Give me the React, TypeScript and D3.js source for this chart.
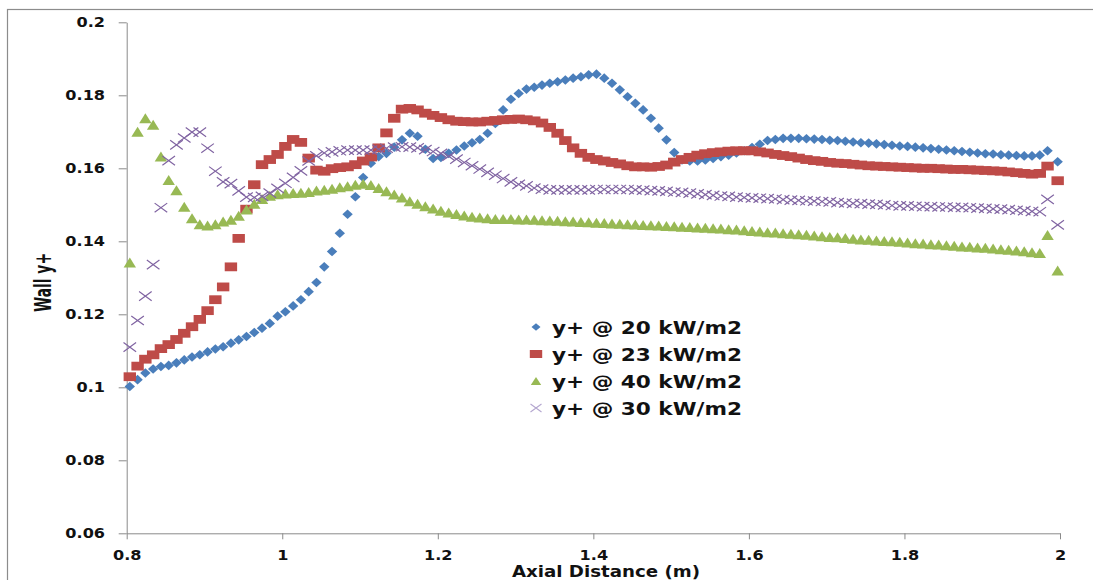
import React, { useEffect, useRef } from 'react';
import * as d3 from 'd3';

// axial positions (m), shared by all four runs
const xValues = [
  0.804, 0.814, 0.824, 0.834, 0.844, 0.854, 0.864, 0.874, 0.884, 0.894,
  0.904, 0.914, 0.924, 0.934, 0.944, 0.954, 0.964, 0.974, 0.984, 0.994,
  1.004, 1.014, 1.024, 1.034, 1.044, 1.054, 1.064, 1.074, 1.084, 1.094,
  1.104, 1.114, 1.124, 1.134, 1.144, 1.154, 1.164, 1.174, 1.184, 1.194,
  1.204, 1.214, 1.224, 1.234, 1.244, 1.254, 1.264, 1.274, 1.284, 1.294,
  1.304, 1.314, 1.324, 1.334, 1.344, 1.354, 1.364, 1.374, 1.384, 1.394,
  1.404, 1.414, 1.424, 1.434, 1.444, 1.454, 1.464, 1.474, 1.484, 1.494,
  1.504, 1.514, 1.524, 1.534, 1.544, 1.554, 1.564, 1.574, 1.584, 1.594,
  1.604, 1.614, 1.624, 1.634, 1.644, 1.654, 1.664, 1.674, 1.684, 1.694,
  1.704, 1.714, 1.724, 1.734, 1.744, 1.754, 1.764, 1.774, 1.784, 1.794,
  1.804, 1.814, 1.824, 1.834, 1.844, 1.854, 1.864, 1.874, 1.884, 1.894,
  1.904, 1.914, 1.924, 1.934, 1.944, 1.954, 1.964, 1.974, 1.984, 1.997,
];

const yPlus20 = [
  0.1002, 0.1021, 0.1039, 0.1050, 0.1057, 0.1060, 0.1067, 0.1075, 0.1083, 0.1089,
  0.1097, 0.1105, 0.1111, 0.1121, 0.1130, 0.1139, 0.1150, 0.1162, 0.1175, 0.1195,
  0.1207, 0.1223, 0.1240, 0.1262, 0.1287, 0.1330, 0.1372, 0.1422, 0.1474, 0.1522,
  0.1575, 0.1614, 0.1632, 0.1641, 0.1658, 0.1678, 0.1696, 0.1688, 0.1652, 0.1627,
  0.1630, 0.1641, 0.1650, 0.1661, 0.1670, 0.1679, 0.1696, 0.1723, 0.1760, 0.1789,
  0.1805, 0.1817, 0.1822, 0.1828, 0.1833, 0.1837, 0.1842, 0.1847, 0.1851, 0.1856,
  0.1858, 0.1847, 0.1833, 0.1815, 0.1796, 0.1778, 0.1760, 0.1737, 0.1710, 0.1678,
  0.1643, 0.1623, 0.1620, 0.1620, 0.1623, 0.1627, 0.1632, 0.1636, 0.1642, 0.1648,
  0.1657, 0.1666, 0.1676, 0.1679, 0.1682, 0.1682, 0.1682, 0.1681, 0.1680, 0.1679,
  0.1677, 0.1676, 0.1674, 0.1672, 0.1670, 0.1669, 0.1667, 0.1665, 0.1663, 0.1661,
  0.1660, 0.1658, 0.1656, 0.1654, 0.1652, 0.1650, 0.1648, 0.1646, 0.1644, 0.1642,
  0.1640, 0.1639, 0.1637, 0.1636, 0.1635, 0.1634, 0.1634, 0.1636, 0.1648, 0.1618,
];

const yPlus23 = [
  0.1029, 0.1058, 0.1077, 0.1089, 0.1106, 0.1117, 0.1131, 0.1148, 0.1166, 0.1186,
  0.1210, 0.1240, 0.1275, 0.1330, 0.1408, 0.1488, 0.1555, 0.1610, 0.1624, 0.1638,
  0.1660, 0.1679, 0.1671, 0.1628, 0.1595, 0.1592, 0.1599, 0.1602, 0.1604, 0.1610,
  0.1620, 0.1631, 0.1656, 0.1697, 0.1737, 0.1762, 0.1764, 0.1760, 0.1751, 0.1745,
  0.1739, 0.1733, 0.1729, 0.1728, 0.1727, 0.1727, 0.1729, 0.1731, 0.1733, 0.1734,
  0.1735, 0.1733, 0.1730, 0.1724, 0.1712, 0.1696, 0.1676, 0.1656, 0.1641, 0.1630,
  0.1624, 0.1620, 0.1616, 0.1612, 0.1607, 0.1604, 0.1604, 0.1603, 0.1605, 0.1609,
  0.1617, 0.1624, 0.1630, 0.1636, 0.1640, 0.1643, 0.1645, 0.1647, 0.1648, 0.1648,
  0.1648, 0.1645, 0.1642, 0.1638, 0.1635, 0.1632, 0.1628, 0.1624, 0.1621, 0.1619,
  0.1616, 0.1614, 0.1613, 0.1611, 0.1609, 0.1607, 0.1606, 0.1605, 0.1604, 0.1603,
  0.1602, 0.1601, 0.1600, 0.1600, 0.1599, 0.1598, 0.1597, 0.1597, 0.1596, 0.1595,
  0.1594, 0.1593, 0.1592, 0.1590, 0.1588, 0.1586, 0.1584, 0.1586, 0.1606, 0.1566,
];

const yPlus40 = [
  0.1342, 0.1700, 0.1737, 0.1719, 0.1632, 0.1568, 0.1540, 0.1495, 0.1463, 0.1447,
  0.1443, 0.1447, 0.1454, 0.1459, 0.1470, 0.1487, 0.1503, 0.1516, 0.1525, 0.1529,
  0.1531, 0.1532, 0.1533, 0.1535, 0.1539, 0.1541, 0.1544, 0.1548, 0.1551, 0.1555,
  0.1558, 0.1554, 0.1546, 0.1537, 0.1528, 0.1520, 0.1510, 0.1503, 0.1496, 0.1490,
  0.1484, 0.1479, 0.1475, 0.1471, 0.1467, 0.1465, 0.1463, 0.1461, 0.1461, 0.1461,
  0.1460, 0.1460, 0.1459, 0.1458, 0.1457, 0.1456, 0.1455, 0.1454, 0.1453, 0.1452,
  0.1451, 0.1450, 0.1449, 0.1448, 0.1447, 0.1446, 0.1445, 0.1444, 0.1443, 0.1442,
  0.1441, 0.1440, 0.1439, 0.1438, 0.1437, 0.1436, 0.1435, 0.1433, 0.1432, 0.1430,
  0.1428, 0.1427, 0.1425, 0.1424, 0.1422, 0.1421, 0.1419, 0.1418, 0.1416, 0.1414,
  0.1412, 0.1411, 0.1409, 0.1407, 0.1405, 0.1404, 0.1402, 0.1401, 0.1400, 0.1399,
  0.1397, 0.1395, 0.1394, 0.1392, 0.1391, 0.1389, 0.1388, 0.1386, 0.1385, 0.1383,
  0.1382, 0.1380, 0.1378, 0.1377, 0.1375, 0.1373, 0.1370, 0.1368, 0.1417, 0.1320,
];

const yPlus30 = [
  0.1110, 0.1183, 0.1250, 0.1336, 0.1492, 0.1621, 0.1664, 0.1683, 0.1699, 0.1699,
  0.1655, 0.1592, 0.1563, 0.1558, 0.1538, 0.1521, 0.1520, 0.1523, 0.1532, 0.1545,
  0.1559, 0.1575, 0.1593, 0.1620, 0.1634, 0.1642, 0.1645, 0.1648, 0.1650, 0.1650,
  0.1650, 0.1650, 0.1652, 0.1655, 0.1658, 0.1659, 0.1658, 0.1656, 0.1651, 0.1646,
  0.1641, 0.1633, 0.1625, 0.1616, 0.1607, 0.1598, 0.1589, 0.1581, 0.1572, 0.1563,
  0.1556, 0.1552, 0.1546, 0.1543, 0.1541, 0.1541, 0.1541, 0.1541, 0.1541, 0.1541,
  0.1542, 0.1542, 0.1542, 0.1542, 0.1542, 0.1541, 0.1540, 0.1539, 0.1538, 0.1537,
  0.1535, 0.1534, 0.1532, 0.1530, 0.1528, 0.1526, 0.1524, 0.1523, 0.1521, 0.1520,
  0.1519, 0.1518, 0.1517, 0.1516, 0.1514, 0.1513, 0.1512, 0.1511, 0.1510, 0.1509,
  0.1508, 0.1506, 0.1505, 0.1504, 0.1503, 0.1502, 0.1501, 0.1500, 0.1498, 0.1497,
  0.1497, 0.1496, 0.1495, 0.1495, 0.1494, 0.1494, 0.1493, 0.1493, 0.1492, 0.1491,
  0.1490, 0.1489, 0.1488, 0.1487, 0.1485, 0.1484, 0.1482, 0.1481, 0.1515, 0.1445,
];

const seriesNames = ['y+ @ 20 kW/m2', 'y+ @ 23 kW/m2', 'y+ @ 40 kW/m2', 'y+ @ 30 kW/m2'];
const yTickValues = [0.06, 0.08, 0.1, 0.12, 0.14, 0.16, 0.18, 0.2];
const xTickValues = [0.8, 1, 1.2, 1.4, 1.6, 1.8, 2];

// marker outlines, centred on 0,0
const diamond = (w, h) => `M0,${-h}L${w},0L0,${h}L${-w},0Z`;
const box = (w, h) => `M${-w},${-h}H${w}V${h}H${-w}Z`;
const triangle = (w, h) => `M0,${-h}L${w},${h}L${-w},${h}Z`;
const cross = (w, h) => `M${-w},${-h}L${w},${h}M${-w},${h}L${w},${-h}`;

const WallYPlusChart = () => {
  const chartRef = useRef(null);

  useEffect(() => {
    const width = 1093;
    const height = 580;
    const left = 126.7, right = 1060, top = 22.3, bottom = 533.3;
    const stretch = 1.2; // the original picture is widened a bit
    const axisColor = '#8a8a8a';
    const labelFont = "'DejaVu Sans', Verdana, sans-serif";
    const titleFont = "'Liberation Sans Narrow', 'DejaVu Sans Condensed', 'Liberation Sans', sans-serif";

    const svg = d3.select(chartRef.current);
    svg.selectAll('*').remove();

    const x = d3.scaleLinear().domain([0.8, 2]).range([left, right]);
    const y = d3.scaleLinear().domain([0.06, 0.2]).range([bottom, top]);

    svg.append('rect')
      .attr('x', 7.5).attr('y', 9.5)
      .attr('width', width + 20).attr('height', height + 20)
      .attr('fill', 'white')
      .attr('stroke', '#8c8c8c')
      .attr('stroke-width', 1.2);

    const series = [
      { name: seriesNames[0], values: yPlus20, color: '#4A7EBB', path: diamond(5.2, 4.8), legend: diamond(4.5, 3.8), fill: true },
      { name: seriesNames[1], values: yPlus23, color: '#BE4B48', path: box(6.2, 4.4), legend: box(6.2, 4), fill: true },
      { name: seriesNames[2], values: yPlus40, color: '#98B954', path: triangle(6.2, 5), legend: triangle(5.2, 4), fill: true },
      { name: seriesNames[3], values: yPlus30, color: '#8064A2', path: cross(6.3, 4.6), legend: cross(5.5, 4), fill: false },
    ];

    // axes
    const yAxis = d3.axisLeft(y)
      .tickValues(yTickValues)
      .tickFormat(d => String(d))
      .tickSizeInner(8)
      .tickSizeOuter(0)
      .tickPadding(13.7);
    const gy = svg.append('g').attr('transform', `translate(${left},0)`).call(yAxis);
    gy.select('.domain').attr('stroke', axisColor);
    gy.selectAll('.tick line').attr('stroke', axisColor);
    gy.selectAll('.tick text')
      .attr('font-family', labelFont)
      .attr('font-size', 13.4)
      .attr('font-weight', 'bold')
      .attr('fill', '#111')
      .attr('x', -21.7 / stretch)
      .attr('transform', `scale(${stretch},1)`);

    const xAxis = d3.axisBottom(x)
      .tickValues(xTickValues)
      .tickFormat(d => String(d))
      .tickSizeInner(6)
      .tickSizeOuter(0)
      .tickPadding(11);
    const gx = svg.append('g').attr('transform', `translate(0,${bottom})`).call(xAxis);
    gx.select('.domain').attr('stroke', axisColor);
    gx.selectAll('.tick line').attr('stroke', axisColor);
    gx.selectAll('.tick text')
      .attr('font-family', labelFont)
      .attr('font-size', 13.4)
      .attr('font-weight', 'bold')
      .attr('fill', '#111')
      .attr('transform', `scale(${stretch},1)`);

    // points, drawn in series order so later runs sit on top
    series.forEach(s => {
      svg.append('g')
        .selectAll('path')
        .data(s.values)
        .enter()
        .append('path')
        .attr('transform', (d, i) => `translate(${x(xValues[i])},${y(d)})`)
        .attr('d', s.path)
        .attr('fill', s.fill ? s.color : 'none')
        .attr('stroke', s.fill ? 'none' : s.color)
        .attr('stroke-width', 1.2);
    });

    // legend
    const legend = svg.append('g').attr('transform', 'translate(536,327)');
    const rows = legend.selectAll('g')
      .data(series)
      .enter()
      .append('g')
      .attr('transform', (d, i) => `translate(0,${i * 27})`);
    rows.append('path')
      .attr('d', d => d.legend)
      .attr('fill', d => (d.fill ? d.color : 'none'))
      .attr('stroke', d => (d.fill ? 'none' : '#b4a6cf'))
      .attr('stroke-width', 1.1);
    rows.append('text')
      .attr('transform', `translate(16,6.5) scale(${stretch},1)`)
      .attr('font-family', labelFont)
      .attr('font-size', 18)
      .attr('font-weight', 'bold')
      .attr('fill', '#111')
      .text(d => d.name);

    // axis titles
    svg.append('text')
      .attr('transform', 'translate(51,282.5) rotate(-90) scale(1,1.25)')
      .attr('text-anchor', 'middle')
      .attr('font-family', titleFont)
      .attr('font-size', 18)
      .attr('font-weight', 'bold')
      .attr('fill', '#111')
      .attr('textLength', 59)
      .attr('lengthAdjust', 'spacingAndGlyphs')
      .text('Wall y+');

    svg.append('text')
      .attr('x', 606)
      .attr('y', 577)
      .attr('text-anchor', 'middle')
      .attr('font-family', titleFont)
      .attr('font-size', 16.5)
      .attr('font-weight', 'bold')
      .attr('fill', '#111')
      .attr('textLength', 188)
      .attr('lengthAdjust', 'spacingAndGlyphs')
      .text('Axial Distance (m)');
  }, []);

  return (
    <svg
      ref={chartRef}
      width={1093}
      height={580}
      style={{ position: 'absolute', left: 0, top: 0, background: 'white' }}
    />
  );
};

export default function App() {
  return <WallYPlusChart />;
}
